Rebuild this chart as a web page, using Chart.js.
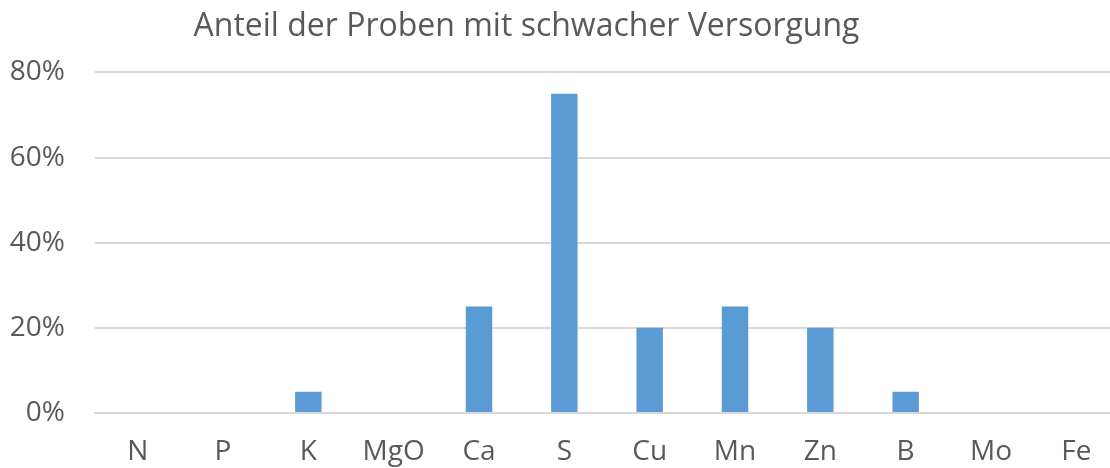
<!DOCTYPE html>
<html>
<head>
<meta charset="utf-8">
<script src="https://cdn.jsdelivr.net/npm/chart.js@4"></script>
<style>
  html, body { margin: 0; padding: 0; background: #fff; overflow: hidden; }
  #wrap { width: 1120px; height: 468px; }
</style>
</head>
<body>
<div id="wrap"><canvas id="chartPlace" width="1120" height="468"></canvas></div>
<script>
const naehrstoffe = ['N', 'P', 'K', 'MgO', 'Ca', 'S', 'Cu', 'Mn', 'Zn', 'B', 'Mo', 'Fe'];
const anteilSchwach = [0, 0, 0.05, 0, 0.25, 0.75, 0.20, 0.25, 0.20, 0.05, 0, 0];
const yTicks = [0, 0.2, 0.4, 0.6, 0.8];
const titel = 'Anteil der Proben mit schwacher Versorgung';

const textColor = '#595959';
const fontFam = '"Open Sans", sans-serif';

// title sits a bit left of the canvas centre in the original
const titleShift = {
  id: 'titleShift',
  afterLayout: function (chart) {
    if (chart.titleBlock) {
      chart.titleBlock.left -= 66;
    }
  }
};

var ctx = document.getElementById('chartPlace').getContext('2d');
const chart = new Chart(ctx, {
  type: 'bar',
  data: {
    labels: naehrstoffe,
    datasets: [{
      label: 'Anteil',
      data: anteilSchwach,
      backgroundColor: '#5B9BD5',
      categoryPercentage: 1,
      barPercentage: 0.31
    }]
  },
  plugins: [titleShift],
  options: {
    responsive: false,
    animation: false,
    devicePixelRatio: 1,
    layout: { padding: { left: 0, right: 1, top: 0, bottom: 0 } },
    plugins: {
      legend: { display: false },
      tooltip: { enabled: false },
      title: {
        display: true,
        text: titel,
        color: textColor,
        font: { family: fontFam, size: 32, weight: 'normal' },
        padding: { top: 8, bottom: 26 }
      }
    },
    scales: {
      x: {
        grid: { display: false, drawTicks: false },
        border: { display: true, color: '#D9D9D9', width: 2 },
        ticks: { color: textColor, font: { family: fontFam, size: 28 }, padding: 22 },
        afterFit: function (scale) { scale.height = 55; }
      },
      y: {
        min: 0,
        max: 0.8,
        afterBuildTicks: function (scale) {
          scale.ticks = yTicks.map(function (v) { return { value: v }; });
        },
        grid: { color: '#D9D9D9', lineWidth: 2, drawTicks: false },
        border: { display: false },
        ticks: {
          color: textColor,
          font: { family: fontFam, size: 28 },
          padding: 30,
          callback: function (v) { return Math.round(v * 100) + '%'; }
        },
        afterFit: function (scale) { scale.width = 95; }
      }
    }
  }
});
</script>
</body>
</html>
